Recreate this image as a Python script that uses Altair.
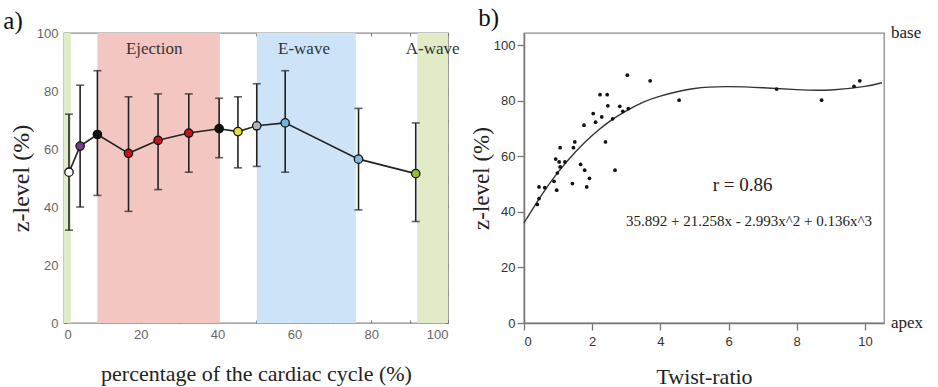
import altair as alt
import pandas as pd

# ---------------- panel a) data ----------------
cycle_pct = [1.3, 4.2, 8.7, 16.8, 24.5, 32.5, 40.4, 45.3, 50.2, 57.6, 76.7, 91.6]
z_mean = [52, 61, 65, 58.5, 63, 65.5, 67, 66, 68, 69, 56.5, 51.5]
z_lo = [32, 40, 44, 38.5, 46, 52, 57, 53.5, 54, 52, 39, 35]
z_hi = [72, 82, 87, 78, 79, 79, 77.5, 78, 82.5, 87, 74, 69]
point_colors = ["#ffffff", "#7a3a8a", "#111111", "#c0141e", "#c0141e", "#c0141e",
                "#111111", "#e8e030", "#a9b4bb", "#6ab8d8", "#8ab8d8", "#8fbf2a"]

band_start = [0, 8.7, 50.2, 92.0]
band_end = [1.8, 40.6, 76.0, 100]
band_colors = ["#e1ebc8", "#f4c6c2", "#cde4f8", "#e1ebc8"]

phase_labels = ["Ejection", "E-wave", "A-wave"]
phase_x = [23.5, 62.5, 96.0]
phase_y = [94.5, 94.5, 94.5]

# ---------------- panel b) data ----------------
twist = [0.39, 0.44, 0.44, 0.61, 0.88, 0.96, 0.93, 1.03, 0.98, 1.06, 1.06, 1.2,
         1.42, 1.45, 1.49, 1.66, 1.76, 1.78, 1.84, 1.92, 2.03, 2.1, 2.23, 2.28,
         2.39, 2.44, 2.46, 2.6, 2.67, 2.81, 2.9, 3.06, 3.03, 3.7, 4.55, 7.41,
         8.73, 9.68, 9.85]
zlev = [42.7, 44.8, 49, 48.7, 51, 47.8, 59, 58, 54, 63.1, 56.2, 58,
        50.2, 63.1, 65.2, 57.1, 71.2, 55, 49, 52.1, 75.4, 72.3, 82.2, 74.2,
        65.2, 82.2, 78.2, 73.5, 55, 78, 76.2, 77.2, 89.2, 87.2, 80.2, 84.2,
        80.2, 85.2, 87.2]

curve_x = [0, 0.5, 1, 1.5, 2, 2.5, 3, 3.5, 4, 5, 6, 7, 8, 9, 10, 10.5]
curve_y = [36, 45.8, 54.3, 61.5, 67.5, 72.5, 76.4, 79.5, 81.7, 84.4, 85.1, 84.7,
           84.0, 83.9, 85.2, 86.5]

notes = ["r = 0.86", "35.892 + 21.258x - 2.993x^2 + 0.136x^3"]
note_x = [6.41, 6.6]
note_y = [49.6, 36.6]
note_size = [19, 15]

side_labels = ["base", "apex"]
side_y = [104.4, 0]

SERIF = "Liberation Serif"
SANS = "Liberation Sans"

# ================= panel a =================
pts = pd.DataFrame({"pct": cycle_pct, "z": z_mean, "lo": z_lo, "hi": z_hi,
                    "col": point_colors})
bands = pd.DataFrame({"pct": band_start, "pct2": band_end, "col": band_colors})
phases = pd.DataFrame({"pct": phase_x, "z": phase_y, "lab": phase_labels})

xa_scale = alt.Scale(domain=[0, 100], nice=False)
ya_scale = alt.Scale(domain=[0, 100], nice=False)

axis_common = dict(grid=False, domain=False, tickSize=3, offset=-3,
                   tickColor="#777", tickWidth=1, labelColor="#666",
                   labelFont=SANS, labelFontSize=13, titleFont=SERIF,
                   titleFontWeight="normal", titleColor="#222")

xa_axis = alt.Axis(values=list(range(0, 101, 10)),
                   labelExpr="datum.value % 20 == 0 ? datum.label : ''",
                   labelPadding=5, title="percentage of the cardiac cycle (%)",
                   titleFontSize=22, titlePadding=22, **axis_common)
ya_axis = alt.Axis(values=list(range(0, 101, 10)),
                   labelExpr="datum.value % 20 == 0 ? datum.label : ''",
                   labelPadding=6, title="z-level (%)",
                   titleFontSize=24, titlePadding=3, **axis_common)
xa_top = alt.Axis(orient="top", values=list(range(0, 101, 10)), labels=False,
                  title=None, grid=False, domain=False, tickSize=3, offset=-3,
                  tickColor="#777")
ya_right = alt.Axis(orient="right", values=list(range(0, 101, 10)), labels=False,
                    title=None, grid=False, domain=False, tickSize=3, offset=-3,
                    tickColor="#777")

band_layer = alt.Chart(bands).mark_rect(opacity=1).encode(
    x=alt.X("pct:Q", scale=xa_scale, axis=None),
    x2="pct2:Q",
    color=alt.Color("col:N", scale=None),
)

phase_layer = alt.Chart(phases).mark_text(font=SERIF, fontSize=17, color="#333").encode(
    x=alt.X("pct:Q", scale=xa_scale, axis=xa_top),
    y=alt.Y("z:Q", scale=ya_scale, axis=ya_right),
    text="lab:N",
)

err_layer = alt.Chart(pts).mark_rule(color="#222", strokeWidth=1.6).encode(
    x=alt.X("pct:Q", scale=xa_scale, axis=xa_axis),
    y=alt.Y("lo:Q", scale=ya_scale, axis=ya_axis),
    y2="hi:Q",
)
cap_hi = alt.Chart(pts).mark_tick(color="#222", size=8, thickness=1.6,
                                  orient="horizontal").encode(
    x=alt.X("pct:Q", scale=xa_scale, axis=None),
    y=alt.Y("hi:Q", scale=ya_scale, axis=None),
)
cap_lo = alt.Chart(pts).mark_tick(color="#222", size=8, thickness=1.6,
                                  orient="horizontal").encode(
    x=alt.X("pct:Q", scale=xa_scale, axis=None),
    y=alt.Y("lo:Q", scale=ya_scale, axis=None),
)
line_layer = alt.Chart(pts).mark_line(color="#222", strokeWidth=1.6).encode(
    x=alt.X("pct:Q", scale=xa_scale, axis=None),
    y=alt.Y("z:Q", scale=ya_scale, axis=None),
)
dot_layer = alt.Chart(pts).mark_point(filled=True, size=70, stroke="#111",
                                      strokeWidth=1.3, opacity=1).encode(
    x=alt.X("pct:Q", scale=xa_scale, axis=None),
    y=alt.Y("z:Q", scale=ya_scale, axis=None),
    fill=alt.Fill("col:N", scale=None),
)

panel_a = alt.layer(band_layer, phase_layer, err_layer, cap_hi, cap_lo,
                    line_layer, dot_layer).resolve_axis(
    x="independent", y="independent"
).properties(
    width=384, height=290,
    title=alt.TitleParams("a)", font=SERIF, fontSize=25, fontWeight="normal",
                          anchor="start", frame="bounds", offset=-7, dx=-6,
                          color="#111"),
)

# ================= panel b =================
sc = pd.DataFrame({"t": twist, "z": zlev})
cv = pd.DataFrame({"t": curve_x, "z": curve_y})
nt = pd.DataFrame({"t": note_x, "z": note_y, "lab": notes, "fs": note_size})
sd = pd.DataFrame({"z": side_y, "lab": side_labels})

xb_scale = alt.Scale(domain=[0, 10.56], nice=False)
yb_scale = alt.Scale(domain=[0, 104.4], nice=False)

xb_axis = alt.Axis(values=[0, 2, 4, 6, 8, 10], grid=False, domainColor="#777",
                   domainWidth=1.5, tickColor="#777", tickSize=7, tickWidth=1.3,
                   labelColor="#333", labelFont=SANS, labelFontSize=13,
                   labelPadding=5, title="Twist-ratio", titleFont=SERIF,
                   titleFontSize=22, titleFontWeight="normal", titleColor="#222",
                   titlePadding=18)
yb_axis = alt.Axis(values=[0, 20, 40, 60, 80, 100], grid=False, domainColor="#777",
                   domainWidth=1.5, tickColor="#777", tickSize=7, tickWidth=1.3,
                   labelColor="#333", labelFont=SANS, labelFontSize=13,
                   labelPadding=2, title="z-level (%)", titleFont=SERIF,
                   titleFontSize=23, titleFontWeight="normal", titleColor="#222",
                   titlePadding=0)

curve_layer = alt.Chart(cv).mark_line(color="#333", strokeWidth=1.4,
                                      interpolate="natural").encode(
    x=alt.X("t:Q", scale=xb_scale, axis=xb_axis),
    y=alt.Y("z:Q", scale=yb_scale, axis=yb_axis),
)
scatter_layer = alt.Chart(sc).mark_circle(size=14, color="#111", opacity=1).encode(
    x=alt.X("t:Q", scale=xb_scale, axis=xb_axis),
    y=alt.Y("z:Q", scale=yb_scale, axis=yb_axis),
)
note_layer = alt.Chart(nt).mark_text(font=SERIF, color="#222").encode(
    x=alt.X("t:Q", scale=xb_scale, axis=xb_axis),
    y=alt.Y("z:Q", scale=yb_scale, axis=yb_axis),
    text="lab:N",
    size=alt.Size("fs:Q", scale=None),
)
side_layer = alt.Chart(sd).mark_text(font=SERIF, fontSize=17, color="#222",
                                     align="left", dx=7).encode(
    x=alt.value(360),
    y=alt.Y("z:Q", scale=yb_scale, axis=yb_axis),
    text="lab:N",
)

panel_b = alt.layer(curve_layer, scatter_layer, note_layer, side_layer).properties(
    width=360, height=290,
    title=alt.TitleParams("b)", font=SERIF, fontSize=25, fontWeight="normal",
                          anchor="start", frame="bounds", offset=-7, dx=8,
                          color="#111"),
)

chart = alt.hconcat(panel_a, panel_b, spacing=8).properties(
    padding={"left": 2, "top": 5, "right": 4, "bottom": 0},
    background="white",
).configure_view(stroke="#8a8a8a", strokeWidth=1.3)

chart.save("out.html", embed_options={"renderer": "svg", "actions": False})
